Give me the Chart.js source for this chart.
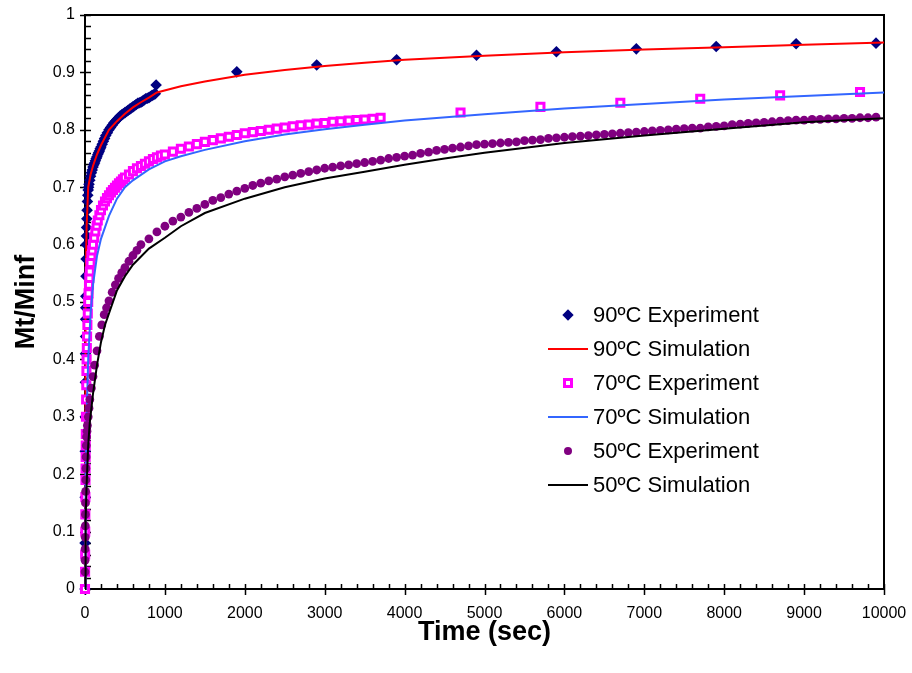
<!DOCTYPE html>
<html>
<head>
<meta charset="utf-8">
<script src="https://cdn.jsdelivr.net/npm/chart.js@4.4.1/dist/chart.umd.min.js"></script>
<style>
  body { margin: 0; background: #fff; }
  #wrap { position: relative; width: 912px; height: 673px; }
  #legend { position: absolute; left: 540px; top: 298px; font-family: "Liberation Sans", Arial, sans-serif; font-size: 22px; color: #000; }
  .row { position: relative; height: 34px; line-height: 34px; }
  .sym { position: absolute; left: 8px; top: 0; width: 40px; height: 34px; }
  .txt { position: absolute; left: 53px; top: 0; white-space: nowrap; }
</style>
</head>
<body>
<div id="wrap">
  <canvas id="myChart" width="912" height="673"></canvas>
  <div id="legend"></div>
</div>
<script>
// uptake runs at three temperatures
const exp90Time = [0, 1, 2, 3, 4, 5, 6, 7, 8, 9, 10,
  12, 14, 16, 18, 20,
  23, 26, 30, 35, 40, 45, 50,
  60, 70, 80, 90, 100, 110, 120, 130, 140, 150, 160, 170, 180, 190, 200,
  215, 230, 245, 260,
  280, 300, 320, 340, 360, 380, 400, 420, 440, 460, 480, 500, 520, 540, 560, 580, 600,
  620, 640, 660, 680, 700, 720, 740, 760, 780, 800, 820, 840, 860, 880, 890,
  1900, 2900, 3900, 4900, 5900, 6900, 7900, 8900, 9900];
const exp90Val = [0, 0.08, 0.16, 0.24, 0.3, 0.36, 0.41, 0.44, 0.47, 0.49, 0.51,
  0.545, 0.575, 0.6, 0.615, 0.63,
  0.645, 0.66, 0.675, 0.686, 0.695, 0.7, 0.705,
  0.712, 0.719, 0.725, 0.73, 0.735, 0.739, 0.742, 0.746, 0.75, 0.753, 0.757, 0.76, 0.763, 0.767, 0.77,
  0.775, 0.78, 0.785, 0.79,
  0.795, 0.8, 0.804, 0.808, 0.812, 0.815, 0.818, 0.821, 0.824, 0.826, 0.828, 0.83, 0.832, 0.834, 0.836, 0.838, 0.84,
  0.842, 0.844, 0.846, 0.847, 0.848, 0.85, 0.852, 0.854, 0.855, 0.856, 0.858, 0.86, 0.861, 0.863, 0.878,
  0.901, 0.913, 0.922, 0.930, 0.936, 0.941, 0.945, 0.950, 0.951];

const sim90Time = [0, 3, 6, 10, 20, 40, 70, 100, 150, 200, 300, 400, 500, 600, 700, 800, 900, 1200, 1500, 2000, 2500, 3000, 3500, 4000, 5000, 6000, 7000, 8000, 9000, 10000];
const sim90Val = [0, 0.25, 0.42, 0.52, 0.63, 0.70, 0.722, 0.737, 0.757, 0.773, 0.80, 0.815, 0.828, 0.839, 0.848, 0.856, 0.865, 0.876, 0.884, 0.896, 0.904, 0.911, 0.917, 0.922, 0.929, 0.935, 0.940, 0.944, 0.948, 0.952];

const exp70Time = [0, 1, 2, 3, 4, 5, 6, 7, 8, 9, 10,
  12, 14, 16, 18, 20, 23, 26, 30, 35, 40, 45, 50, 55, 60,
  70, 80, 90, 100, 115, 130, 145, 160, 180, 200,
  225, 250, 275, 300, 325, 350, 375, 400, 425, 450, 475, 500,
  550, 600, 650, 700, 750, 800, 850, 900, 950,
  1000, 1100, 1200, 1300, 1400, 1500, 1600, 1700, 1800, 1900, 2000, 2100, 2200, 2300, 2400, 2500, 2600, 2700, 2800, 2900, 3000,
  3100, 3200, 3300, 3400, 3500, 3600, 3700, 4700, 5700, 6700, 7700, 8700, 9700];
const exp70Val = [0, 0.03, 0.06, 0.1, 0.13, 0.16, 0.19, 0.21, 0.23, 0.25, 0.27,
  0.3, 0.33, 0.355, 0.38, 0.4, 0.42, 0.44, 0.46, 0.48, 0.5, 0.515, 0.53, 0.542, 0.553,
  0.568, 0.58, 0.59, 0.6, 0.612, 0.623, 0.633, 0.642, 0.651, 0.66,
  0.668, 0.675, 0.681, 0.686, 0.691, 0.695, 0.699, 0.703, 0.707, 0.71, 0.714, 0.717,
  0.722, 0.728, 0.733, 0.737, 0.741, 0.745, 0.749, 0.752, 0.755,
  0.757, 0.762, 0.767, 0.771, 0.775, 0.779, 0.782, 0.785, 0.788, 0.791, 0.794, 0.796, 0.798, 0.800, 0.802, 0.804, 0.806, 0.808, 0.809, 0.811, 0.812,
  0.814, 0.815, 0.816, 0.817, 0.818, 0.819, 0.821, 0.830, 0.840, 0.847, 0.854, 0.860, 0.866];

const sim70Time = [0, 5, 10, 20, 40, 70, 100, 150, 200, 300, 400, 500, 600, 800, 1000, 1200, 1500, 2000, 2500, 3000, 3500, 4000, 5000, 6000, 7000, 8000, 9000, 10000];
const sim70Val = [0, 0.12, 0.2, 0.3, 0.4, 0.48, 0.53, 0.58, 0.61, 0.65, 0.68, 0.7, 0.712, 0.731, 0.745, 0.754, 0.765, 0.78, 0.792, 0.801, 0.809, 0.816, 0.827, 0.837, 0.845, 0.853, 0.859, 0.865];

const exp50Time = [0, 1, 2, 3, 4, 5, 6, 8, 10, 12, 14, 16, 20, 25, 30, 40, 50, 60, 80, 100, 120, 150, 180, 210, 240, 270, 300, 340, 380, 420, 460, 500, 550, 600, 650,
  700, 800, 900, 1000, 1100, 1200, 1300, 1400, 1500, 1600, 1700, 1800, 1900, 2000, 2100, 2200, 2300, 2400, 2500, 2600, 2700, 2800, 2900, 3000,
  3100, 3200, 3300, 3400, 3500, 3600, 3700, 3800, 3900, 4000, 4100, 4200, 4300, 4400, 4500, 4600, 4700, 4800, 4900, 5000,
  5100, 5200, 5300, 5400, 5500, 5600, 5700, 5800, 5900, 6000, 6100, 6200, 6300, 6400, 6500, 6600, 6700, 6800, 6900, 7000,
  7100, 7200, 7300, 7400, 7500, 7600, 7700, 7800, 7900, 8000, 8100, 8200, 8300, 8400, 8500, 8600, 8700, 8800, 8900, 9000,
  9100, 9200, 9300, 9400, 9500, 9600, 9700, 9800, 9900];
const exp50Val = [0.03, 0.05, 0.07, 0.09, 0.11, 0.13, 0.15, 0.17, 0.19, 0.21, 0.23, 0.25, 0.265, 0.275, 0.285, 0.30, 0.315, 0.33, 0.35, 0.37, 0.39, 0.415, 0.44, 0.46, 0.478, 0.49, 0.502, 0.517, 0.53, 0.541, 0.551, 0.56, 0.571, 0.581, 0.59,
  0.600, 0.610, 0.622, 0.632, 0.641, 0.648, 0.656, 0.663, 0.670, 0.677, 0.682, 0.688, 0.693, 0.698, 0.703, 0.707, 0.711, 0.714, 0.718, 0.721, 0.724, 0.727, 0.730, 0.733,
  0.735, 0.737, 0.739, 0.741, 0.743, 0.745, 0.747, 0.750, 0.752, 0.754, 0.756, 0.759, 0.761, 0.764, 0.766, 0.768, 0.770, 0.772, 0.774, 0.775,
  0.776, 0.777, 0.778, 0.779, 0.781, 0.782, 0.783, 0.785, 0.786, 0.787, 0.788, 0.789, 0.790, 0.791, 0.792, 0.793, 0.794, 0.795, 0.796, 0.797,
  0.798, 0.799, 0.800, 0.801, 0.802, 0.803, 0.803, 0.805, 0.806, 0.807, 0.809, 0.810, 0.811, 0.812, 0.813, 0.814, 0.815, 0.816, 0.817, 0.817,
  0.818, 0.818, 0.819, 0.819, 0.820, 0.820, 0.821, 0.821, 0.822];

const sim50Time = [0, 5, 10, 20, 40, 60, 100, 150, 200, 250, 300, 400, 500, 600, 800, 1000, 1200, 1500, 2000, 2500, 3000, 3500, 4000, 4500, 5000, 6000, 7000, 8000, 9000, 10000];
const sim50Val = [0, 0.08, 0.12, 0.18, 0.25, 0.29, 0.34, 0.39, 0.43, 0.46, 0.48, 0.52, 0.545, 0.565, 0.593, 0.612, 0.632, 0.655, 0.68, 0.7, 0.715, 0.727, 0.739, 0.75, 0.76, 0.777, 0.79, 0.802, 0.813, 0.82];

const seriesNames = ['90ºC Experiment', '90ºC Simulation', '70ºC Experiment', '70ºC Simulation', '50ºC Experiment', '50ºC Simulation'];
const xTicks = [0, 1000, 2000, 3000, 4000, 5000, 6000, 7000, 8000, 9000, 10000];
const yTicks = [0, 0.1, 0.2, 0.3, 0.4, 0.5, 0.6, 0.7, 0.8, 0.9, 1];

const pts = (xs, ys) => xs.map((x, i) => ({ x: x, y: ys[i] }));
const FONT = '"Liberation Sans", Arial, sans-serif';

function marks(label, data, style, color, radius, fill, bw) {
  return { label, data, showLine: false, pointStyle: style, pointRadius: radius, pointHoverRadius: radius,
    pointBackgroundColor: fill, pointBorderColor: color, pointBorderWidth: bw, borderColor: color, backgroundColor: fill, clip: 8 };
}
function curve(label, data, color) {
  return { label, data, showLine: true, pointRadius: 0, borderColor: color, backgroundColor: color, borderWidth: 2, tension: 0, clip: 8 };
}

const datasets = [
  marks(seriesNames[0], pts(exp90Time, exp90Val), 'rectRot', '#000080', 5.8, '#000080', 0),
  curve(seriesNames[1], pts(sim90Time, sim90Val), '#ff0000'),
  marks(seriesNames[2], pts(exp70Time, exp70Val), 'rect', '#ff00ff', 5, '#ffffff', 3),
  curve(seriesNames[3], pts(sim70Time, sim70Val), '#3366ff'),
  marks(seriesNames[4], pts(exp50Time, exp50Val), 'circle', '#800080', 4.4, '#800080', 0),
  curve(seriesNames[5], pts(sim50Time, sim50Val), '#000000')
];
// later series paint over earlier ones
datasets.forEach((d, i) => { d.order = datasets.length - i; });

// frame plus inward minor / crossing major tick marks
const frameTicks = {
  id: 'frameTicks',
  beforeDatasetsDraw(chart) {
    const { ctx, chartArea: a, scales: { x, y } } = chart;
    ctx.save();
    ctx.strokeStyle = '#000';
    ctx.lineWidth = 2;
    ctx.strokeRect(a.left, a.top, a.right - a.left, a.bottom - a.top);
    ctx.lineWidth = 1.5;
    ctx.beginPath();
    for (let i = 0; i <= 50; i++) {
      const px = Math.round(x.getPixelForValue(i * 200)) + 0.5;
      const major = i % 5 === 0;
      ctx.moveTo(px, a.bottom + (major ? 6 : 0));
      ctx.lineTo(px, a.bottom - 5);
    }
    for (let i = 0; i <= 50; i++) {
      const py = Math.round(y.getPixelForValue(i * 0.02)) + 0.5;
      const major = i % 5 === 0;
      ctx.moveTo(a.left - (major ? 5 : 0), py);
      ctx.lineTo(a.left + 6, py);
    }
    ctx.stroke();
    ctx.restore();
  }
};

const chart = new Chart(document.getElementById('myChart'), {
  type: 'scatter',
  data: { datasets },
  options: {
    responsive: false,
    animation: false,
    devicePixelRatio: 1,
    layout: { padding: { left: 0, top: 15, right: 28, bottom: 0 } },
    plugins: { legend: { display: false }, tooltip: { enabled: false } },
    scales: {
      x: {
        type: 'linear', min: 0, max: 10000,
        afterFit: s => { s.height = 84; s.paddingLeft = 0; s.paddingRight = 0; },
        afterBuildTicks: s => { s.ticks = xTicks.map(v => ({ value: v })); },
        grid: { display: false, drawTicks: false },
        border: { display: false },
        ticks: { color: '#000', padding: 15, maxRotation: 0, font: { family: FONT, size: 16 }, callback: v => String(v) },
        title: { display: true, text: 'Time (sec)', color: '#000', font: { family: FONT, size: 27, weight: 'bold' }, padding: { top: 0, bottom: 24 } }
      },
      y: {
        type: 'linear', min: 0, max: 1,
        afterFit: s => { s.width = 85; s.paddingTop = 0; s.paddingBottom = 0; },
        afterBuildTicks: s => { s.ticks = yTicks.map(v => ({ value: v })); },
        grid: { display: false, drawTicks: false },
        border: { display: false },
        ticks: { color: '#000', padding: 10, font: { family: FONT, size: 16 }, callback: v => String(v) },
        title: { display: true, text: 'Mt/Minf', color: '#000', font: { family: FONT, size: 27, weight: 'bold' }, padding: { top: 10, bottom: 0 } }
      }
    }
  },
  plugins: [frameTicks]
});

// legend laid over the plot
const legend = document.getElementById('legend');
chart.data.datasets.forEach(d => {
  const row = document.createElement('div');
  row.className = 'row';
  const sym = document.createElement('div');
  sym.className = 'sym';
  const s = document.createElement('div');
  s.style.position = 'absolute';
  if (d.showLine) {
    Object.assign(s.style, { left: '0px', top: '16px', width: '40px', height: '2px', background: d.borderColor });
  } else if (d.pointStyle === 'rectRot') {
    Object.assign(s.style, { left: '16px', top: '13px', width: '8px', height: '8px', background: d.pointBorderColor, transform: 'rotate(45deg)' });
  } else if (d.pointStyle === 'rect') {
    Object.assign(s.style, { left: '15px', top: '12px', width: '4px', height: '4px', border: '3px solid ' + d.pointBorderColor, background: '#fff' });
  } else {
    Object.assign(s.style, { left: '16px', top: '13px', width: '8px', height: '8px', borderRadius: '50%', background: d.pointBorderColor });
  }
  sym.appendChild(s);
  const t = document.createElement('div');
  t.className = 'txt';
  t.textContent = d.label;
  row.appendChild(sym);
  row.appendChild(t);
  legend.appendChild(row);
});
</script>
</body>
</html>
